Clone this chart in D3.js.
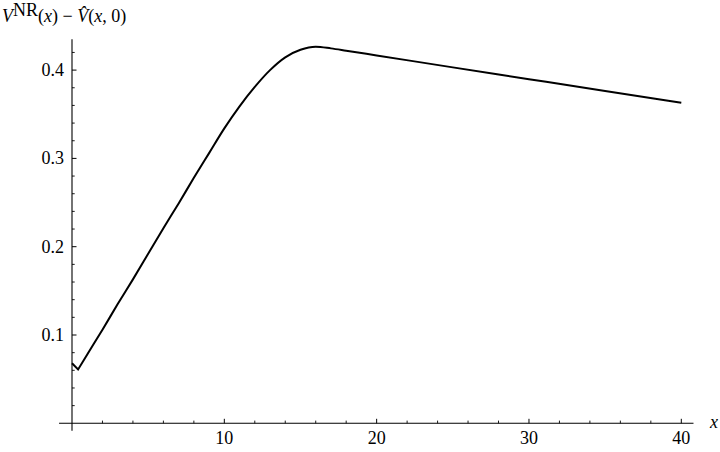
<!DOCTYPE html>
<html>
<head>
<meta charset="utf-8">
<script src="https://cdn.jsdelivr.net/npm/d3@7/dist/d3.min.js"></script>
<style>
  html, body { margin: 0; padding: 0; background: #fff; }
  svg { display: block; }
</style>
</head>
<body>
<svg id="chart" width="720" height="452"></svg>
<script>
// ---- data ----
const xValues = [0, 0.4, 1, 2, 3, 4, 5, 6, 7, 8, 9, 10, 11, 12, 13, 14, 15, 16, 17, 18, 20, 25, 30, 35, 40];
const yValues = [0.068, 0.061, 0.078, 0.106, 0.135, 0.163, 0.192, 0.221, 0.249, 0.278, 0.306, 0.334, 0.359, 0.381, 0.400, 0.4145, 0.423, 0.4265, 0.4246, 0.4220, 0.4166, 0.4031, 0.3897, 0.3763, 0.363];
const xMajorTicks = [10, 20, 30, 40];
const xMinorTicks = [2, 4, 6, 8, 12, 14, 16, 18, 22, 24, 26, 28, 32, 34, 36, 38];
const yMajorTicks = [0.1, 0.2, 0.3, 0.4];
const yMinorTicks = [0.02, 0.04, 0.06, 0.08, 0.12, 0.14, 0.16, 0.18, 0.22, 0.24, 0.26, 0.28, 0.32, 0.34, 0.36, 0.38, 0.42];

const FONT = "'Liberation Serif', 'Times New Roman', 'DejaVu Serif', serif";
const svg = d3.select("#chart");
const x = d3.scaleLinear().domain([0, 40]).range([72, 681.3]);
const y = d3.scaleLinear().domain([0, 0.4]).range([423.3, 70.1]);

const axisColor = "#000";
svg.append("line")
  .attr("x1", x(-0.85)).attr("x2", x(40.8))
  .attr("y1", y(0)).attr("y2", y(0))
  .attr("stroke", axisColor).attr("stroke-width", 1.1);
svg.append("line")
  .attr("x1", x(0)).attr("x2", x(0))
  .attr("y1", y(-0.0083)).attr("y2", y(0.435))
  .attr("stroke", axisColor).attr("stroke-width", 1.1);

svg.selectAll(".xmaj").data(xMajorTicks).enter().append("line")
  .attr("x1", d => x(d)).attr("x2", d => x(d))
  .attr("y1", y(0)).attr("y2", y(0) - 4.5)
  .attr("stroke", axisColor).attr("stroke-width", 1);
svg.selectAll(".xmin").data(xMinorTicks).enter().append("line")
  .attr("x1", d => x(d)).attr("x2", d => x(d))
  .attr("y1", y(0)).attr("y2", y(0) - 2.7)
  .attr("stroke", axisColor).attr("stroke-width", 0.9);
svg.selectAll(".xlab").data(xMajorTicks).enter().append("text")
  .attr("x", d => x(d)).attr("y", 444)
  .attr("text-anchor", "middle")
  .attr("font-family", FONT).attr("font-size", 18)
  .text(d => d);

svg.selectAll(".ymaj").data(yMajorTicks).enter().append("line")
  .attr("x1", x(0)).attr("x2", x(0) + 4.5)
  .attr("y1", d => y(d)).attr("y2", d => y(d))
  .attr("stroke", axisColor).attr("stroke-width", 1);
svg.selectAll(".ymin").data(yMinorTicks).enter().append("line")
  .attr("x1", x(0)).attr("x2", x(0) + 2.7)
  .attr("y1", d => y(d)).attr("y2", d => y(d))
  .attr("stroke", axisColor).attr("stroke-width", 0.9);
svg.selectAll(".ylab").data(yMajorTicks).enter().append("text")
  .attr("x", 64).attr("y", d => y(d) + 6)
  .attr("text-anchor", "end")
  .attr("font-family", FONT).attr("font-size", 18)
  .text(d => d3.format(".1f")(d));

// curve: sharp corner at the minimum, smooth elsewhere
const pts = xValues.map((v, i) => [v, yValues[i]]);
const gx = d => x(d[0]), gy = d => y(d[1]);
const lineLin = d3.line().x(gx).y(gy);
const lineSmooth = d3.line().x(gx).y(gy).curve(d3.curveMonotoneX);
const dPath = lineLin(pts.slice(0, 2)) + lineSmooth(pts.slice(1)).replace(/^M[^A-Za-z]*/, "");
svg.append("path")
  .attr("d", dPath)
  .attr("fill", "none")
  .attr("stroke", "#000")
  .attr("stroke-width", 2)
  .attr("stroke-linejoin", "miter");

svg.append("text")
  .attr("x", 710).attr("y", 428)
  .attr("font-family", FONT).attr("font-size", 18).attr("font-style", "italic")
  .text("x");

const title = svg.append("text").attr("x", 2).attr("y", 22)
  .attr("font-family", FONT).attr("font-size", 18);
title.append("tspan").attr("font-style", "italic").text("V");
title.append("tspan").attr("dy", -6).text("NR");
title.append("tspan").attr("dy", 6).text("(");
title.append("tspan").attr("font-style", "italic").text("x");
title.append("tspan").text(") \u2212 ");
title.append("tspan").attr("font-style", "italic").text("V\u0302");
title.append("tspan").text("(");
title.append("tspan").attr("font-style", "italic").text("x");
title.append("tspan").text(", 0)");
</script>
</body>
</html>
